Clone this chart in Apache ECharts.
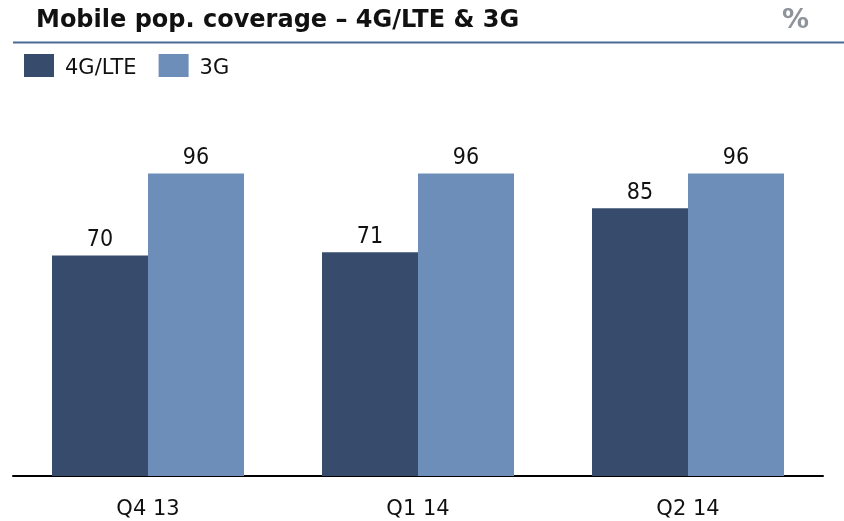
<!DOCTYPE html>
<html><head><meta charset="utf-8">
<script src="https://cdn.jsdelivr.net/npm/echarts@6/dist/echarts.min.js"></script>
<style>html,body{margin:0;padding:0;background:#fff}#c{width:844px;height:521px}</style>
</head><body><div id="c"></div>
<script>
const categories = ['Q4 13', 'Q1 14', 'Q2 14'];
const lte = [70, 71, 85];
const g3 = [96, 96, 96];
const seriesNames = ['4G/LTE', '3G'];
const FONT = '"DejaVu Sans", Verdana, sans-serif';
const FONTC = '"DejaVu Sans Condensed", "DejaVu Sans", sans-serif';
const chart = echarts.init(document.getElementById('c'), null, {renderer: 'canvas'});
chart.setOption({
  animation: false,
  title: [
    {text: 'Mobile pop. coverage – 4G/LTE & 3G', left: 31, top: 4,
     textStyle: {fontFamily: FONT, fontWeight: 'bold', fontSize: 24, color: '#111'}},
    {text: '%', left: 777, top: 2,
     textStyle: {fontFamily: FONT, fontWeight: 'bold', fontSize: 27, color: '#8f949a'}}
  ],
  graphic: [
    {type: 'line', shape: {x1: 13, y1: 42.5, x2: 844, y2: 42.5},
     style: {stroke: '#4a6a96', lineWidth: 2}}
  ],
  legend: {
    left: 24, top: 54, itemWidth: 30, itemHeight: 23, itemGap: 22, padding: 0,
    icon: 'rect',
    formatter: '{t|{name}}',
    textStyle: {
      fontFamily: FONT, fontSize: 21, color: '#111',
      rich: {t: {fontFamily: FONT, fontSize: 21, color: '#111', padding: [6, 0, 0, 6]}}
    },
    data: seriesNames
  },
  grid: {left: 13, right: 21, top: 161, bottom: 45, containLabel: false},
  xAxis: {
    type: 'category', data: categories,
    axisLine: {lineStyle: {color: '#000', width: 2}},
    axisTick: {show: false},
    axisLabel: {fontFamily: FONT, fontSize: 21, color: '#111', margin: 23}
  },
  yAxis: {type: 'value', min: 0, max: 100, show: false, splitLine: {show: false}},
  series: [
    {name: seriesNames[0], type: 'bar', data: lte, barWidth: 96, barGap: '0%',
     itemStyle: {color: '#374c6d'},
     label: {show: true, position: 'top', distance: 4, fontFamily: FONTC, fontSize: 23, color: '#111'}},
    {name: seriesNames[1], type: 'bar', data: g3, barWidth: 96, barGap: '0%',
     itemStyle: {color: '#6e8eba'},
     label: {show: true, position: 'top', distance: 4, fontFamily: FONTC, fontSize: 23, color: '#111'}}
  ]
});
</script></body></html>
